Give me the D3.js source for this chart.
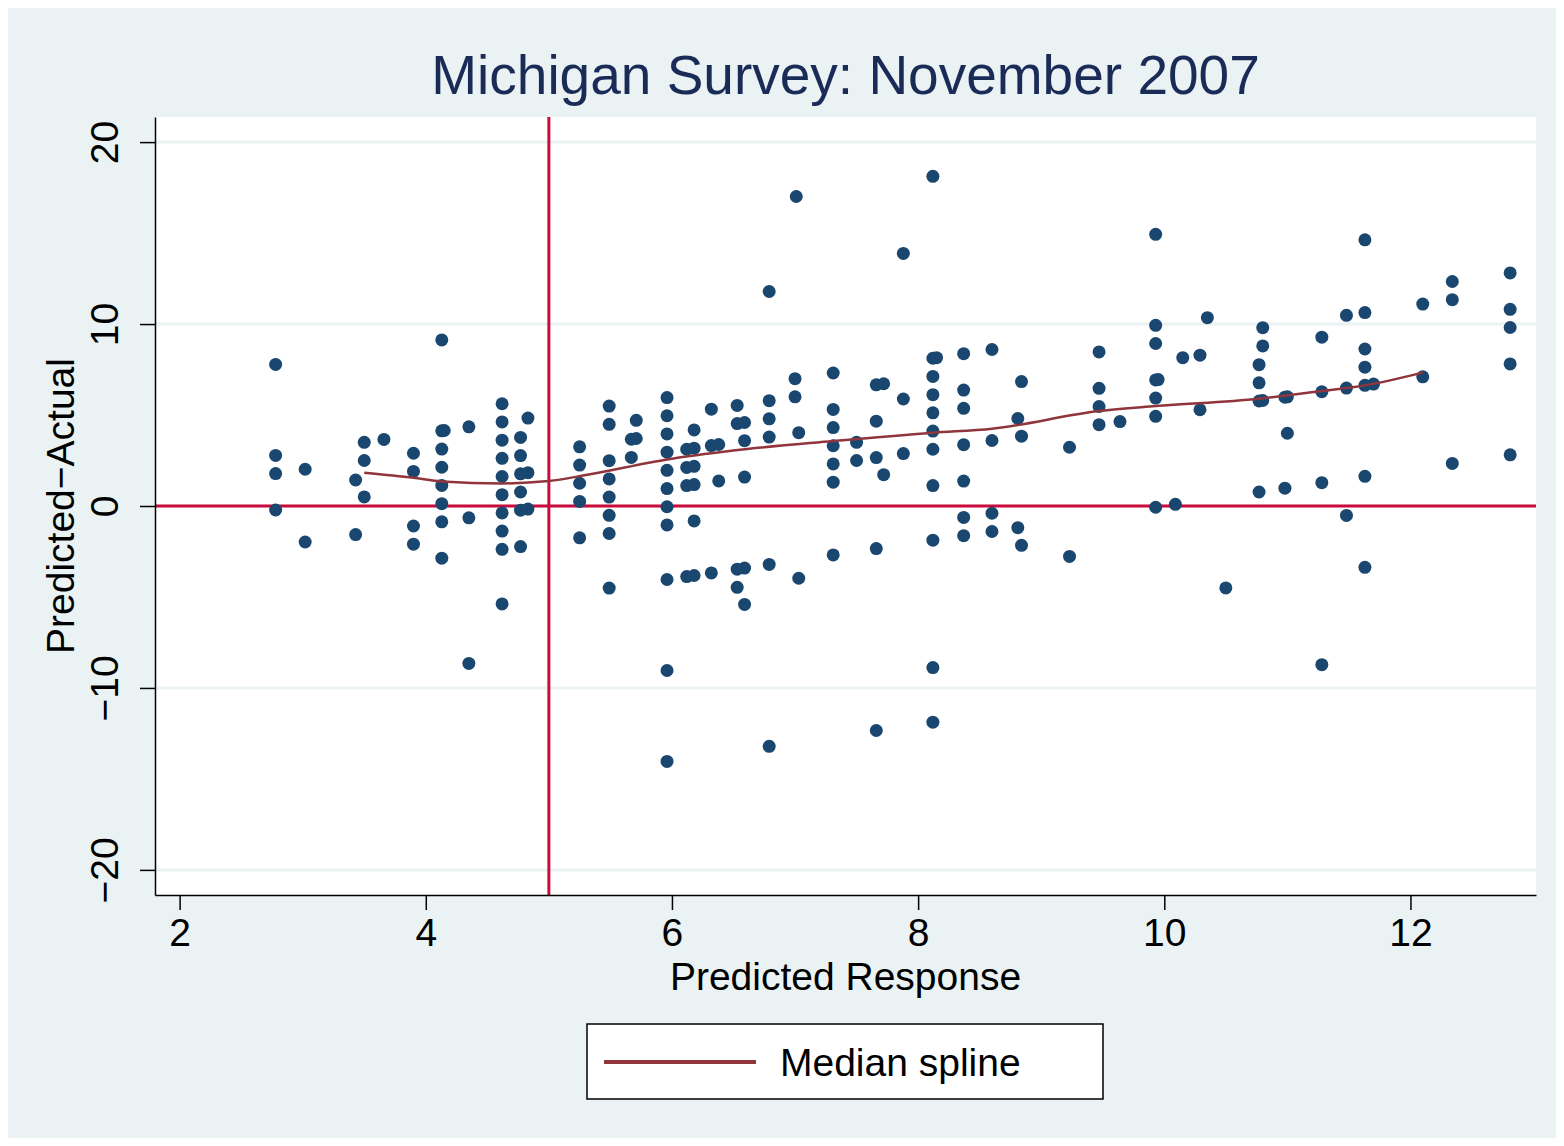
<!DOCTYPE html>
<html>
<head>
<meta charset="utf-8">
<script src="https://cdnjs.cloudflare.com/ajax/libs/d3/7.8.5/d3.min.js"></script>
<style>
body { margin: 0; background: #ffffff; }
.chart { width: 1564px; height: 1146px; }
.chart text { font-family: "Liberation Sans", Arial, sans-serif; fill: #000; }
.axis path, .axis line { stroke: #000; stroke-width: 1.5; }
</style>
</head>
<body>
<div class="chart"></div>
<script>
//The data. Each dot is one (predicted, predicted - actual) pair.
let predicted = [
    2.78, 2.78, 2.78, 2.78,
    3.02, 3.02,
    3.43, 3.43,
    3.50, 3.50, 3.50,
    3.66,
    3.90, 3.90, 3.90, 3.90,
    4.13, 4.13, 4.13, 4.13, 4.13, 4.13, 4.13, 4.13, 4.15,
    4.35, 4.35, 4.35,
    4.62, 4.62, 4.62, 4.62, 4.62, 4.62, 4.62, 4.62, 4.62, 4.62,
    4.77, 4.77, 4.77, 4.77, 4.77, 4.77,
    4.83, 4.83, 4.83,
    5.25, 5.25, 5.25, 5.25, 5.25,
    5.49, 5.49, 5.49, 5.49, 5.49, 5.49, 5.49, 5.49,
    5.67, 5.67,
    5.71, 5.71,
    5.96, 5.96, 5.96, 5.96, 5.96, 5.96, 5.96, 5.96, 5.96, 5.96, 5.96,
    6.12, 6.12, 6.12, 6.12,
    6.18, 6.18, 6.18, 6.18, 6.18, 6.18,
    6.32, 6.32, 6.32,
    6.38, 6.38,
    6.53, 6.53, 6.53, 6.53,
    6.59, 6.59, 6.59, 6.59, 6.59,
    6.79, 6.79, 6.79, 6.79, 6.79, 6.79,
    7.00, 7.00, 7.01,
    7.03, 7.03,
    7.31, 7.31, 7.31, 7.31, 7.31, 7.31, 7.31,
    7.50, 7.50,
    7.66, 7.66, 7.66, 7.66, 7.66,
    7.72, 7.72,
    7.88, 7.88, 7.88,
    8.12, 8.12, 8.12, 8.12, 8.12, 8.12, 8.12, 8.12, 8.12, 8.12, 8.12, 8.15,
    8.37, 8.37, 8.37, 8.37, 8.37, 8.37, 8.37,
    8.60, 8.60, 8.60, 8.60,
    8.84, 8.84, 8.84,
    8.81, 8.81,
    9.23, 9.23,
    9.47, 9.47, 9.47, 9.47,
    9.64,
    9.93, 9.93, 9.93, 9.93, 9.93, 9.93, 9.93, 9.95,
    10.09,
    10.15,
    10.29, 10.29,
    10.35,
    10.50,
    10.77, 10.77, 10.77, 10.77,
    10.80, 10.80, 10.80,
    10.98, 10.98,
    11.00, 11.00,
    11.28, 11.28, 11.28, 11.28,
    11.48, 11.48, 11.48,
    11.63, 11.63, 11.63, 11.63, 11.63, 11.63, 11.63,
    11.70,
    12.10, 12.10,
    12.34, 12.34, 12.34,
    12.81, 12.81, 12.81, 12.81, 12.81
];

let predMinusActual = [
    7.78, 2.78, 1.78, -0.22,
    2.02, -1.98,
    1.43, -1.57,
    3.50, 2.50, 0.50,
    3.66,
    2.90, 1.90, -1.10, -2.10,
    9.13, 4.13, 3.13, 2.13, 1.13, 0.13, -0.87, -2.87, 4.15,
    4.35, -0.65, -8.65,
    5.62, 4.62, 3.62, 2.62, 1.62, 0.62, -0.38, -1.38, -2.38, -5.38,
    3.77, 2.77, 1.77, 0.77, -0.23, -2.23,
    4.83, 1.83, -0.17,
    3.25, 2.25, 1.25, 0.25, -1.75,
    5.49, 4.49, 2.49, 1.49, 0.49, -0.51, -1.51, -4.51,
    3.67, 2.67,
    4.71, 3.71,
    5.96, 4.96, 3.96, 2.96, 1.96, 0.96, -0.04, -1.04, -4.04, -9.04, -14.04,
    3.12, 2.12, 1.12, -3.88,
    4.18, 3.18, 2.18, 1.18, -0.82, -3.82,
    5.32, 3.32, -3.68,
    3.38, 1.38,
    5.53, 4.53, -3.47, -4.47,
    4.59, 3.59, 1.59, -3.41, -5.41,
    11.79, 5.79, 4.79, 3.79, -3.21, -13.21,
    7.00, 6.00, 17.01,
    4.03, -3.97,
    7.31, 5.31, 4.31, 3.31, 2.31, 1.31, -2.69,
    3.50, 2.50,
    6.66, 4.66, 2.66, -2.34, -12.34,
    6.72, 1.72,
    13.88, 5.88, 2.88,
    18.12, 8.12, 7.12, 6.12, 5.12, 4.12, 3.12, 1.12, -1.88, -8.88, -11.88, 8.15,
    8.37, 6.37, 5.37, 3.37, 1.37, -0.63, -1.63,
    8.60, 3.60, -0.40, -1.40,
    6.84, 3.84, -2.16,
    4.81, -1.19,
    3.23, -2.77,
    8.47, 6.47, 5.47, 4.47,
    4.64,
    14.93, 9.93, 8.93, 6.93, 5.93, 4.93, -0.07, 6.95,
    0.09,
    8.15,
    8.29, 5.29,
    10.35,
    -4.50,
    7.77, 6.77, 5.77, 0.77,
    9.80, 8.80, 5.80,
    5.98, 0.98,
    6.00, 4.00,
    9.28, 6.28, 1.28, -8.72,
    10.48, 6.48, -0.52,
    14.63, 10.63, 8.63, 7.63, 6.63, 1.63, -3.37,
    6.70,
    11.10, 7.10,
    12.34, 11.34, 2.34,
    12.81, 10.81, 9.81, 7.81, 2.81
];

//Median spline, traced through the curve
let splineX = [3.50, 3.90, 4.13, 4.62, 5.00, 5.30, 5.96, 6.50, 7.31, 8.12, 8.60, 9.47, 9.93, 10.77, 11.28, 11.63, 12.10];
let splineY = [1.83, 1.55, 1.35, 1.24, 1.37, 1.70, 2.56, 3.05, 3.57, 4.03, 4.25, 5.22, 5.49, 5.90, 6.32, 6.63, 7.33];

let xTicks = [2, 4, 6, 8, 10, 12];
let yTicks = [-20, -10, 0, 10, 20];

let chartTitle = "Michigan Survey: November 2007";
let xTitle = "Predicted Response";
let yTitle = "Predicted\u2212Actual";
let legendLabel = "Median spline";

let chart = {};

init();

function init() {

    chart.dots = predicted.map((x, i) => {
        return { x: x, y: predMinusActual[i] };
    });

    chart.spline = splineX.map((x, i) => {
        return { x: x, y: splineY[i] };
    });

    chart.colors = {
        bg: "#eaf2f3",
        grid: "#eaf2f3",
        dot: "#1a476f",
        spline: "#90353b",
        ref: "#cc0a3c",
        title: "#1a2b57"
    };

    chart.fontSize = "39px";

    setDimensions();
    setScales();
    appendElements();
}

function setDimensions() {
    chart.margin = { top: 117, right: 28, bottom: 251, left: 155 };
    chart.width = 1564 - chart.margin.left - chart.margin.right;
    chart.height = 1146 - chart.margin.top - chart.margin.bottom;
}

function setScales() {
    chart.xScale = d3.scaleLinear()
        .range([0, chart.width])
        .domain([1.8, 13.02]);

    chart.yScale = d3.scaleLinear()
        .range([chart.height, 0])
        .domain([-21.38, 21.38]);

    chart.line = d3.line()
        .x(d => chart.xScale(d.x))
        .y(d => chart.yScale(d.y))
        .curve(d3.curveMonotoneX);
}

function appendElements() {

    chart.svg = d3.select(".chart").append("svg")
        .attr("width", 1564)
        .attr("height", 1146);

    //the light blue-grey graph region, with a thin white frame round it
    chart.svg.append("rect")
        .attr("x", 8)
        .attr("y", 8)
        .attr("width", 1548)
        .attr("height", 1130)
        .attr("fill", chart.colors.bg);

    chart.svg.append("text")
        .attr("x", chart.margin.left + chart.width / 2)
        .attr("y", 94)
        .attr("text-anchor", "middle")
        .style("font-size", "55px")
        .style("fill", chart.colors.title)
        .text(chartTitle);

    chart.plot = chart.svg.append("g")
        .attr("transform", `translate(${chart.margin.left},${chart.margin.top})`);

    chart.plot.append("rect")
        .attr("width", chart.width)
        .attr("height", chart.height)
        .attr("fill", "#ffffff");

    chart.plot.selectAll(".grid")
        .data(yTicks)
        .enter()
        .append("line")
        .attr("class", "grid")
        .attr("x1", 0)
        .attr("x2", chart.width)
        .attr("y1", d => chart.yScale(d))
        .attr("y2", d => chart.yScale(d))
        .attr("stroke", chart.colors.grid)
        .attr("stroke-width", 3);

    //reference lines at zero gap and at a predicted response of 5
    chart.plot.append("line")
        .attr("x1", 0)
        .attr("x2", chart.width)
        .attr("y1", chart.yScale(0))
        .attr("y2", chart.yScale(0))
        .attr("stroke", chart.colors.ref)
        .attr("stroke-width", 3);

    chart.plot.append("line")
        .attr("x1", chart.xScale(5))
        .attr("x2", chart.xScale(5))
        .attr("y1", 0)
        .attr("y2", chart.height)
        .attr("stroke", chart.colors.ref)
        .attr("stroke-width", 3);

    chart.plot.selectAll(".dot")
        .data(chart.dots)
        .enter()
        .append("circle")
        .attr("class", "dot")
        .attr("cx", d => chart.xScale(d.x))
        .attr("cy", d => chart.yScale(d.y))
        .attr("r", 6.5)
        .attr("fill", chart.colors.dot);

    chart.plot.append("path")
        .attr("d", chart.line(chart.spline))
        .attr("fill", "none")
        .attr("stroke", chart.colors.spline)
        .attr("stroke-width", 2.5);

    //axes
    chart.xAxis = chart.plot.append("g")
        .attr("class", "axis x-axis")
        .attr("transform", `translate(0,${chart.height})`)
        .call(
            d3.axisBottom(chart.xScale)
            .tickValues(xTicks)
            .tickSize(15)
            .tickSizeOuter(0)
            .tickPadding(8)
        );

    chart.xAxis.selectAll("text").style("font-size", chart.fontSize);

    chart.yAxis = chart.plot.append("g")
        .attr("class", "axis y-axis")
        .call(
            d3.axisLeft(chart.yScale)
            .tickValues(yTicks)
            .tickSize(15)
            .tickSizeOuter(0)
        );

    chart.yAxis.selectAll("text")
        .attr("transform", "rotate(-90)")
        .attr("x", 0)
        .attr("y", -37)
        .attr("dy", 0)
        .attr("text-anchor", "middle")
        .style("font-size", chart.fontSize);

    chart.svg.append("text")
        .attr("x", chart.margin.left + chart.width / 2)
        .attr("y", 990)
        .attr("text-anchor", "middle")
        .style("font-size", chart.fontSize)
        .text(xTitle);

    chart.svg.append("text")
        .attr("transform", `translate(74,${chart.margin.top + chart.height / 2}) rotate(-90)`)
        .attr("text-anchor", "middle")
        .style("font-size", chart.fontSize)
        .text(yTitle);

    //legend
    chart.legend = chart.svg.append("g");

    chart.legend.append("rect")
        .attr("x", 587)
        .attr("y", 1024)
        .attr("width", 516)
        .attr("height", 75)
        .attr("fill", "#ffffff")
        .attr("stroke", "#000")
        .attr("stroke-width", 1.5);

    chart.legend.append("line")
        .attr("x1", 604)
        .attr("x2", 756)
        .attr("y1", 1062)
        .attr("y2", 1062)
        .attr("stroke", chart.colors.spline)
        .attr("stroke-width", 4);

    chart.legend.append("text")
        .attr("x", 780)
        .attr("y", 1076)
        .style("font-size", chart.fontSize)
        .text(legendLabel);
}
</script>
</body>
</html>
